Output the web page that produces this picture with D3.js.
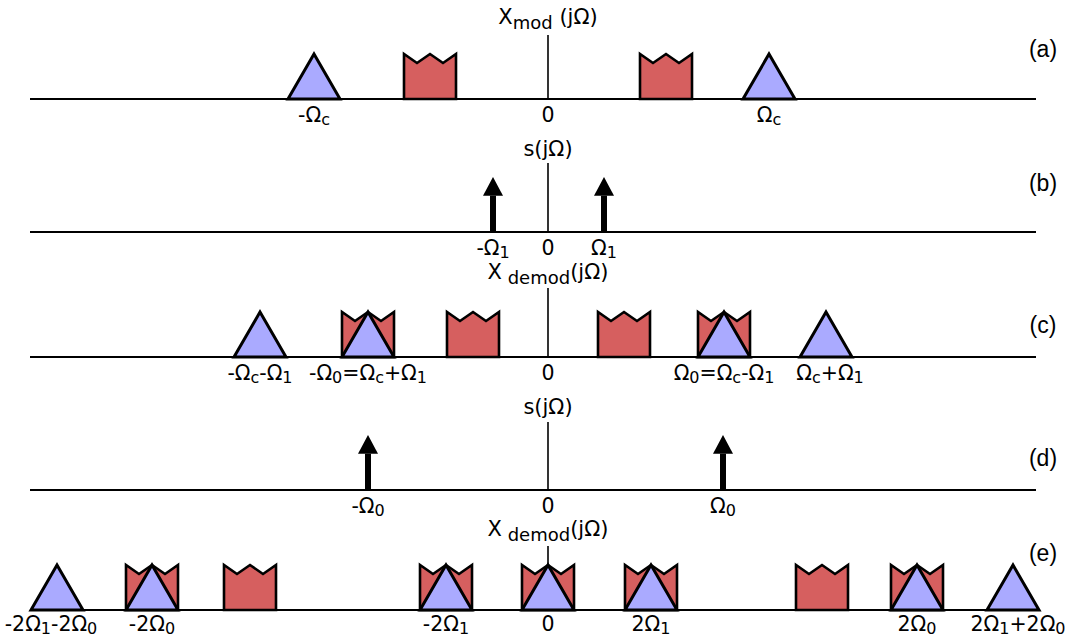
<!DOCTYPE html>
<html>
<head>
<meta charset="utf-8">
<script src="https://cdn.jsdelivr.net/npm/d3@7"></script>
<style>
  body { margin: 0; background: #fff; }
  text { font-family: "DejaVu Sans", sans-serif; fill: #000; }
  .plabel { font-family: "Liberation Sans", Arial, sans-serif; }
</style>
</head>
<body>
<script>
// spectrum positions (0 = centre axis)
const panelLabels = ["(a)", "(b)", "(c)", "(d)", "(e)"];
const panelTitles = ["X_{mod} (jΩ)", "s(jΩ)", "X_{ demod}(jΩ)", "s(jΩ)", "X_{ demod}(jΩ)"];

const aBoxes = [-118, 118];
const aTriangles = [-234, 221];
const aTickValues = [-234, 0, 221];
const aTickLabels = ["-Ω_c", "0", "Ω_c"];

const bArrows = [-55, 56];
const bTickValues = [-55, 0, 56];
const bTickLabels = ["-Ω_1", "0", "Ω_1"];

const cBoxes = [-180, -75, 76, 176];
const cTriangles = [-288, -180, 176, 278];
const cTickValues = [-288, -180, 0, 176, 282];
const cTickLabels = ["-Ω_c-Ω_1", "-Ω_0=Ω_c+Ω_1", "0", "Ω_0=Ω_c-Ω_1", "Ω_c+Ω_1"];

const dArrows = [-180, 175];
const dTickValues = [-180, 0, 175];
const dTickLabels = ["-Ω_0", "0", "Ω_0"];

const eBoxes = [-396, -298, -102, 0, 103, 274, 369];
const eTriangles = [-491, -396, -102, 0, 103, 369, 465];
const eTickValues = [-497, -396, -102, 0, 103, 369, 470];
const eTickLabels = ["-2Ω_1-2Ω_0", "-2Ω_0", "-2Ω_1", "0", "2Ω_1", "2Ω_0", "2Ω_1+2Ω_0"];

const halfWidth = 26; // half band width of each shape

const panels = [
  { base: 99,  axisTop: 35,  titleY: 24,  labelY: 57,  tickDy: 23, boxes: aBoxes, tris: aTriangles, arrows: [], ticks: aTickValues, tickLabels: aTickLabels },
  { base: 232, axisTop: 163, titleY: 156, labelY: 191, tickDy: 23, boxes: [], tris: [], arrows: bArrows, ticks: bTickValues, tickLabels: bTickLabels },
  { base: 357, axisTop: 288, titleY: 279, labelY: 333, tickDy: 23, boxes: cBoxes, tris: cTriangles, arrows: [], ticks: cTickValues, tickLabels: cTickLabels },
  { base: 490, axisTop: 422, titleY: 414, labelY: 466, tickDy: 23, boxes: [], tris: [], arrows: dArrows, ticks: dTickValues, tickLabels: dTickLabels },
  { base: 610, axisTop: 546, titleY: 536, labelY: 561, tickDy: 21, boxes: eBoxes, tris: eTriangles, arrows: [], ticks: eTickValues, tickLabels: eTickLabels }
];

var width = 1067, height = 639;

var svg = d3.select("body")
  .append("svg")
  .attr("width", width)
  .attr("height", height);

var x = d3.scaleLinear()
  .domain([-518, 488])
  .range([30, 1036]);

// write "Ω_c" / "X_{mod}" as text with subscript tspans
function richText(sel, str, size, subSize, subDy) {
  var parts = [];
  var re = /_\{([^}]*)\}|_(.)|([^_]+)/g, m;
  while ((m = re.exec(str)) !== null) {
    if (m[1] !== undefined) parts.push({ t: m[1], sub: true });
    else if (m[2] !== undefined) parts.push({ t: m[2], sub: true });
    else parts.push({ t: m[3], sub: false });
  }
  var shift = 0;
  parts.forEach(function (p) {
    var ts = sel.append("tspan").text(p.t).style("white-space", "pre");
    if (p.sub && shift === 0) { ts.attr("dy", subDy); shift = subDy; }
    else if (!p.sub && shift !== 0) { ts.attr("dy", -shift); shift = 0; }
    ts.style("font-size", (p.sub ? subSize : size) + "px");
  });
}

var red = "#d65f5f", blue = "#aaaaff";

panels.forEach(function (p, i) {
  var g = svg.append("g");
  var y = d3.scaleLinear().domain([0, 1]).range([p.base, p.base - 45]);
  var yArrow = d3.scaleLinear().domain([0, 1]).range([p.base, p.base - 55]);
  var line = d3.line().x(function (d) { return x(d[0]); }).y(function (d) { return y(d[1]); });

  // zero axis
  g.append("line")
    .attr("x1", x(0)).attr("x2", x(0))
    .attr("y1", p.axisTop).attr("y2", p.base)
    .attr("stroke", "#000").attr("stroke-width", 1.6);

  // baseline
  g.append("line")
    .attr("x1", x.range()[0]).attr("x2", x.range()[1])
    .attr("y1", p.base).attr("y2", p.base)
    .attr("stroke", "#000").attr("stroke-width", 2);

  // red crown-shaped bands
  g.selectAll(".box")
    .data(p.boxes)
    .enter()
    .append("path")
    .attr("d", function (c) {
      return line([[c - halfWidth, 0], [c - halfWidth, 1], [c - halfWidth / 2, 0.8], [c, 1],
                   [c + halfWidth / 2, 0.8], [c + halfWidth, 1], [c + halfWidth, 0]]) + "Z";
    })
    .attr("fill", red)
    .attr("stroke", "#000")
    .attr("stroke-width", 2.6)
    .attr("stroke-linejoin", "miter");

  // blue triangle bands
  g.selectAll(".tri")
    .data(p.tris)
    .enter()
    .append("path")
    .attr("d", function (c) {
      return line([[c - halfWidth, 0], [c, 1], [c + halfWidth, 0]]) + "Z";
    })
    .attr("fill", blue)
    .attr("stroke", "#000")
    .attr("stroke-width", 3)
    .attr("stroke-linejoin", "miter");

  // impulses
  var arr = g.selectAll(".arrow")
    .data(p.arrows)
    .enter()
    .append("g");
  arr.append("line")
    .attr("x1", function (c) { return x(c); })
    .attr("x2", function (c) { return x(c); })
    .attr("y1", yArrow(0))
    .attr("y2", yArrow(0.66))
    .attr("stroke", "#000")
    .attr("stroke-width", 6);
  arr.append("path")
    .attr("d", function (c) {
      var cx = x(c);
      return "M" + (cx - 10) + "," + yArrow(0.66) + "L" + cx + "," + yArrow(1) + "L" + (cx + 10) + "," + yArrow(0.66) + "Z";
    })
    .attr("fill", "#000");

  // tick labels
  p.ticks.forEach(function (v, k) {
    var t = g.append("text")
      .attr("x", x(v))
      .attr("y", p.base + p.tickDy)
      .attr("text-anchor", "middle");
    richText(t, p.tickLabels[k], 20.5, 16, 3);
  });

  // title above zero axis
  var tt = g.append("text")
    .attr("x", x(0))
    .attr("y", p.titleY)
    .attr("text-anchor", "middle");
  richText(tt, panelTitles[i], 21, 18, 5);

  // panel label
  g.append("text")
    .attr("class", "plabel")
    .attr("x", 1043)
    .attr("y", p.labelY)
    .attr("text-anchor", "middle")
    .style("font-size", "23px")
    .text(panelLabels[i]);
});
</script>
</body>
</html>
